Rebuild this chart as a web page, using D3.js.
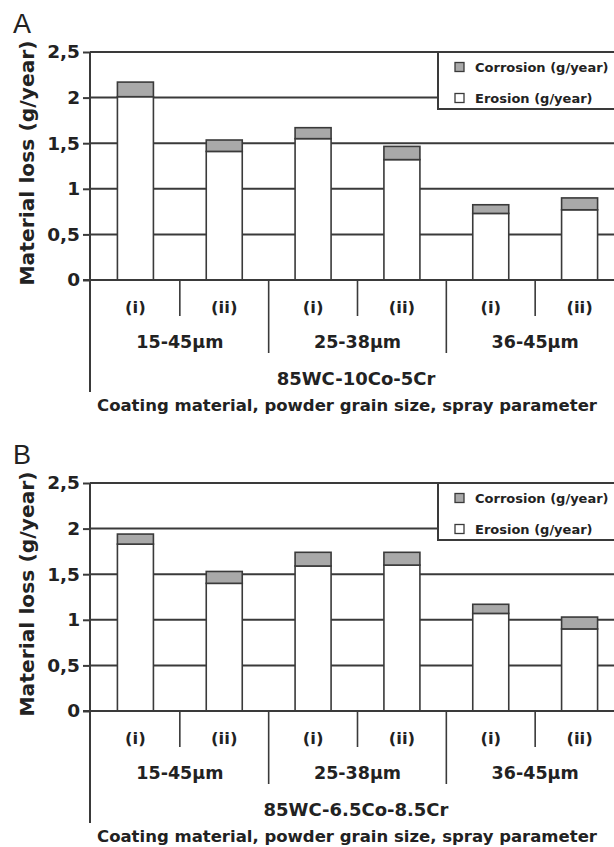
<!DOCTYPE html>
<html>
<head>
<meta charset="utf-8">
<script src="https://cdn.jsdelivr.net/npm/d3@7"></script>
<style>
  body { margin: 0; background: #fff; }
  text { font-family: "DejaVu Sans", "Liberation Sans", Arial, sans-serif; fill: #222; }
</style>
</head>
<body>
<div id="chart"></div>
<script>
let w = 614;
let h = 847;

// categories
let sprayParams = ['(i)', '(ii)', '(i)', '(ii)', '(i)', '(ii)'];
let grainSizes = ['15-45µm', '25-38µm', '36-45µm'];
let yTicks = [0, 0.5, 1, 1.5, 2, 2.5];
let yTickLabels = ['0', '0,5', '1', '1,5', '2', '2,5'];
let seriesNames = ['Corrosion (g/year)', 'Erosion (g/year)'];

// panel A: 85WC-10Co-5Cr
let erosionA = [2.01, 1.41, 1.55, 1.32, 0.73, 0.77];
let corrosionA = [0.16, 0.125, 0.12, 0.145, 0.095, 0.13];
// panel B: 85WC-6.5Co-8.5Cr
let erosionB = [1.83, 1.40, 1.59, 1.60, 1.07, 0.90];
let corrosionB = [0.11, 0.13, 0.15, 0.14, 0.10, 0.13];

let lineColor = '#3a3a3a';
let corrosionColor = '#a9a9a9';

let svg = d3.select('#chart')
    .append('svg')
    .attr('width', w)
    .attr('height', h);

const drawPanel = (offsetY, letter, erosion, corrosion, material) => {
    let g = svg.append('g')
        .attr('transform', 'translate(0,' + offsetY + ')');

    let xScale = d3.scaleBand()
        .domain(d3.range(sprayParams.length))
        .range([91, 624])
        .padding(0);

    let yScale = d3.scaleLinear()
        .domain([0, 2.5])
        .range([280, 52]);

    let barW = 36;

    // gridlines
    g.selectAll('.grid')
        .data(yTicks)
        .enter()
        .append('line')
        .attr('x1', 90)
        .attr('x2', w)
        .attr('y1', d => yScale(d))
        .attr('y2', d => yScale(d))
        .attr('stroke', lineColor)
        .attr('stroke-width', 2);

    // stacked bars
    let bars = g.selectAll('.bar')
        .data(sprayParams.map((p, i) => ({i: i, e: erosion[i], c: corrosion[i]})))
        .enter()
        .append('g');

    bars.append('rect')
        .attr('x', d => xScale(d.i) + (xScale.bandwidth() - barW) / 2)
        .attr('y', d => yScale(d.e))
        .attr('width', barW)
        .attr('height', d => yScale(0) - yScale(d.e))
        .attr('fill', '#fff')
        .attr('stroke', lineColor)
        .attr('stroke-width', 1.6);

    bars.append('rect')
        .attr('x', d => xScale(d.i) + (xScale.bandwidth() - barW) / 2)
        .attr('y', d => yScale(d.e + d.c))
        .attr('width', barW)
        .attr('height', d => yScale(d.e) - yScale(d.e + d.c))
        .attr('fill', corrosionColor)
        .attr('stroke', lineColor)
        .attr('stroke-width', 1.6);

    // y axis
    let yAxis = d3.axisLeft(yScale)
        .tickValues(yTicks)
        .tickSize(7)
        .tickPadding(3)
        .tickFormat((d, i) => yTickLabels[i]);

    let ya = g.append('g')
        .attr('transform', 'translate(90,0)')
        .call(yAxis);
    ya.select('.domain').remove();
    ya.selectAll('line').attr('stroke', lineColor).attr('stroke-width', 2);
    ya.selectAll('text')
        .style('font-size', '18.5px')
        .style('font-weight', 'bold')
        .style('font-family', '"DejaVu Sans", sans-serif')
        .attr('fill', '#222');

    g.append('line')
        .attr('x1', 90).attr('x2', 90)
        .attr('y1', yScale(2.5)).attr('y2', 392)
        .attr('stroke', lineColor)
        .attr('stroke-width', 2);

    // baseline
    g.append('line')
        .attr('x1', 83).attr('x2', w)
        .attr('y1', yScale(0)).attr('y2', yScale(0))
        .attr('stroke', lineColor)
        .attr('stroke-width', 2);

    // category separators
    d3.range(1, sprayParams.length).forEach(i => {
        g.append('line')
            .attr('x1', xScale(i)).attr('x2', xScale(i))
            .attr('y1', yScale(0))
            .attr('y2', i % 2 === 0 ? 353 : 316)
            .attr('stroke', lineColor)
            .attr('stroke-width', 1.6);
    });

    g.selectAll('.param')
        .data(sprayParams)
        .enter()
        .append('text')
        .attr('x', (d, i) => xScale(i) + xScale.bandwidth() / 2)
        .attr('y', 307)
        .attr('dy', '0.35em')
        .attr('text-anchor', 'middle')
        .style('font-size', '16.5px')
        .style('font-weight', 'bold')
        .text(d => d);

    g.selectAll('.grain')
        .data(grainSizes)
        .enter()
        .append('text')
        .attr('x', (d, i) => xScale(i * 2 + 1))
        .attr('y', 342)
        .attr('dy', '0.35em')
        .attr('text-anchor', 'middle')
        .style('font-size', '17.5px')
        .style('font-weight', 'bold')
        .text(d => d);

    g.append('text')
        .attr('x', 356)
        .attr('y', 379)
        .attr('dy', '0.35em')
        .attr('text-anchor', 'middle')
        .style('font-size', '18px')
        .style('font-weight', 'bold')
        .text(material);

    g.append('text')
        .attr('x', 347)
        .attr('y', 405)
        .attr('dy', '0.35em')
        .attr('text-anchor', 'middle')
        .style('font-size', '16.5px')
        .style('font-weight', 'bold')
        .text('Coating material, powder grain size, spray parameter');

    g.append('text')
        .attr('text-anchor', 'middle')
        .attr('transform', 'translate(34,163) rotate(-90)')
        .style('font-size', '20.3px')
        .style('font-weight', 'bold')
        .text('Material loss (g/year)');

    g.append('text')
        .attr('x', 13)
        .attr('y', 33)
        .style('font-family', '"Liberation Sans", Arial, sans-serif')
        .style('font-size', '27px')
        .text(letter);

    // legend
    let lg = g.append('g').attr('transform', 'translate(438,52)');
    lg.append('rect')
        .attr('width', 200)
        .attr('height', 57)
        .attr('fill', '#fff')
        .attr('stroke', lineColor)
        .attr('stroke-width', 2);
    let legendColors = [corrosionColor, '#fff'];
    seriesNames.forEach((s, i) => {
        let ly = 15 + i * 31;
        lg.append('rect')
            .attr('x', 17)
            .attr('y', ly - 4.5)
            .attr('width', 9)
            .attr('height', 9)
            .attr('fill', legendColors[i])
            .attr('stroke', lineColor)
            .attr('stroke-width', 1.3);
        lg.append('text')
            .attr('x', 37)
            .attr('y', ly)
            .attr('dy', '0.35em')
            .style('font-size', '13px')
            .style('font-weight', 'bold')
            .text(s);
    });
};

drawPanel(0, 'A', erosionA, corrosionA, '85WC-10Co-5Cr');
drawPanel(431, 'B', erosionB, corrosionB, '85WC-6.5Co-8.5Cr');
</script>
</body>
</html>
